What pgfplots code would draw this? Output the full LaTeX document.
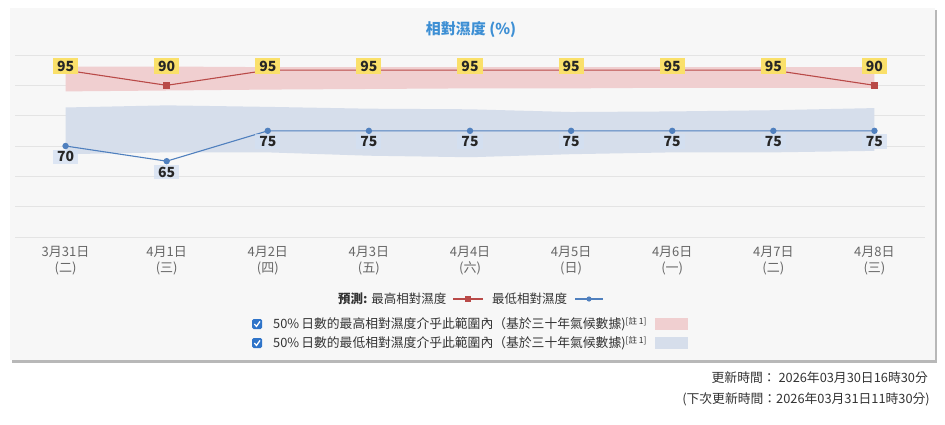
\documentclass[border=0pt]{standalone}
\usepackage{fontspec}
\setmainfont{Noto Sans CJK TC}
\usepackage{pgfplots}
\pgfplotsset{compat=1.18}
\definecolor{panel}{HTML}{F7F7F7}
\definecolor{gridc}{HTML}{E4E4E4}
\definecolor{tickc}{HTML}{666666}
\definecolor{titlec}{HTML}{3D8FD4}
\definecolor{redline}{HTML}{B94A48}
\definecolor{blueline}{HTML}{5080BE}
\definecolor{redband}{HTML}{F0CFD0}
\definecolor{blueband}{HTML}{D6DEEB}
\definecolor{labyellow}{HTML}{FAE06A}
\definecolor{lowlab}{HTML}{D3E0F2}
\definecolor{checkc}{HTML}{2F74C9}
\definecolor{txt}{HTML}{333333}
\begin{document}
\begin{tikzpicture}
\fill[white] (0pt,0pt) rectangle (945pt,424pt);
\fill[black!28] (12pt,61pt) rectangle (937pt,414pt);
\fill[panel] (10pt,64pt) rectangle (935pt,416pt);
\node[font=\fontsize{15}{18}\selectfont\bfseries, text=titlec] at (471pt,394pt) {相對濕度 (\%)};
\begin{axis}[at={(15pt,187pt)}, anchor=south west, scale only axis,
  width=910pt, height=182pt,
  xmin=-0.5, xmax=8.5, ymin=40, ymax=100,
  xtick={0,1,2,3,4,5,6,7,8},
  xticklabels={{3月31日\\(二)},{4月1日\\(三)},{4月2日\\(四)},{4月3日\\(五)},{4月4日\\(六)},{4月5日\\(日)},{4月6日\\(一)},{4月7日\\(二)},{4月8日\\(三)}},
  xticklabel style={align=center, font=\fontsize{13}{15.5}\selectfont, text=tickc, yshift=-6pt},
  ytick={40,50,60,70,80,90,100}, yticklabels={},
  ymajorgrids, grid style={color=gridc, line width=0.9pt},
  axis line style={draw=none}, major tick length=0pt,
  clip=false]
% 50% ranges (upper edge left to right, lower edge right to left)
\addplot[fill=redband, draw=none, forget plot] coordinates {(0,96.2)(1,96.2)(2,96)(3,96)(4,96)(5,96)(6,96)(7,96)(8,96)
  (8,89.2)(7,89.2)(6,89.2)(5,89)(4,89)(3,88.8)(2,88.6)(1,88.3)(0,88)} -- cycle;
\addplot[fill=blueband, draw=none, forget plot] coordinates {(0,82.7)(1,83.4)(2,82.9)(3,82.3)(4,82.1)(5,81.2)(6,81.4)(7,81.8)(8,82.5)
  (8,68.4)(7,67.9)(6,67.9)(5,67.3)(4,66.3)(3,66.8)(2,67.9)(1,67.9)(0,67.3)} -- cycle;
% forecast lines
\addplot[redline, line width=1.1pt, mark=square*, mark size=3pt, mark options={fill=redline, draw=redline}] coordinates {(0,95)(1,90)(2,95)(3,95)(4,95)(5,95)(6,95)(7,95)(8,90)};
\addplot[blueline, line width=1.1pt, mark=*, mark size=2.6pt, mark options={fill=blueline, draw=blueline},
  nodes near coords, point meta=explicit symbolic,
  every node near coord/.append style={anchor=north, yshift=-3pt, fill=lowlab, fill opacity=0.75, text opacity=1, text=black!85, inner xsep=4pt, inner ysep=2pt, font=\fontsize{14}{14}\selectfont\bfseries}]
  coordinates {(0,70)[70] (1,65)[65] (2,75)[75] (3,75)[75] (4,75)[75] (5,75)[75] (6,75)[75] (7,75)[75] (8,75)[75]};
% high labels
\addplot[draw=none, mark=none, nodes near coords, point meta=explicit symbolic,
  every node near coord/.append style={anchor=center, yshift=0pt, fill=labyellow, text=black!85, inner xsep=4pt, inner ysep=3pt, font=\fontsize{14}{14}\selectfont\bfseries}]
  coordinates {(0,96.4)[95] (1,96.4)[90] (2,96.4)[95] (3,96.4)[95] (4,96.4)[95] (5,96.4)[95] (6,96.4)[95] (7,96.4)[95] (8,96.4)[90]};
\end{axis}
% legend row 1
\node[anchor=west, font=\fontsize{12.5}{15}\selectfont, text=txt, inner sep=0] at (338pt,125pt) {\textbf{預測:} 最高相對濕度};
\draw[redline, line width=1.2pt] (453pt,125pt) -- (483pt,125pt);
\fill[redline] (465pt,122pt) rectangle (471pt,128pt);
\node[anchor=west, font=\fontsize{12.5}{15}\selectfont, text=txt, inner sep=0] at (492pt,125pt) {最低相對濕度};
\draw[blueline, line width=1.2pt] (575pt,125pt) -- (603pt,125pt);
\fill[blueline] (589pt,125pt) circle (2.6pt);
% legend rows 2-3
\foreach \yy/\lbl/\col in {100/最高/redband, 81/最低/blueband}{
  \fill[checkc, rounded corners=1.5pt] (252pt,\yy pt-5pt) rectangle (262pt,\yy pt+5pt);
  \draw[white, line width=1.3pt] (254.3pt,\yy pt) -- (256.5pt,\yy pt-2.4pt) -- (260pt,\yy pt+2.6pt);
  \node[anchor=west, font=\fontsize{12.8}{15}\selectfont, text=txt, inner sep=0] at (273pt,\yy pt) {50\%\,日數的\lbl 相對濕度介乎此範圍內（基於三十年氣候數據)\raisebox{4pt}{\fontsize{8.5}{8.5}\selectfont[註 1]}};
  \fill[\col] (655pt,\yy pt-6pt) rectangle (688pt,\yy pt+6pt);
}
% footer
\node[anchor=east, font=\fontsize{12.8}{15}\selectfont, text=txt, inner sep=0] at (928pt,46pt) {更新時間： 2026年03月30日16時30分};
\node[anchor=east, font=\fontsize{12.8}{15}\selectfont, text=txt, inner sep=0] at (930pt,25pt) {(下次更新時間：2026年03月31日11時30分)};
\end{tikzpicture}
\end{document}
